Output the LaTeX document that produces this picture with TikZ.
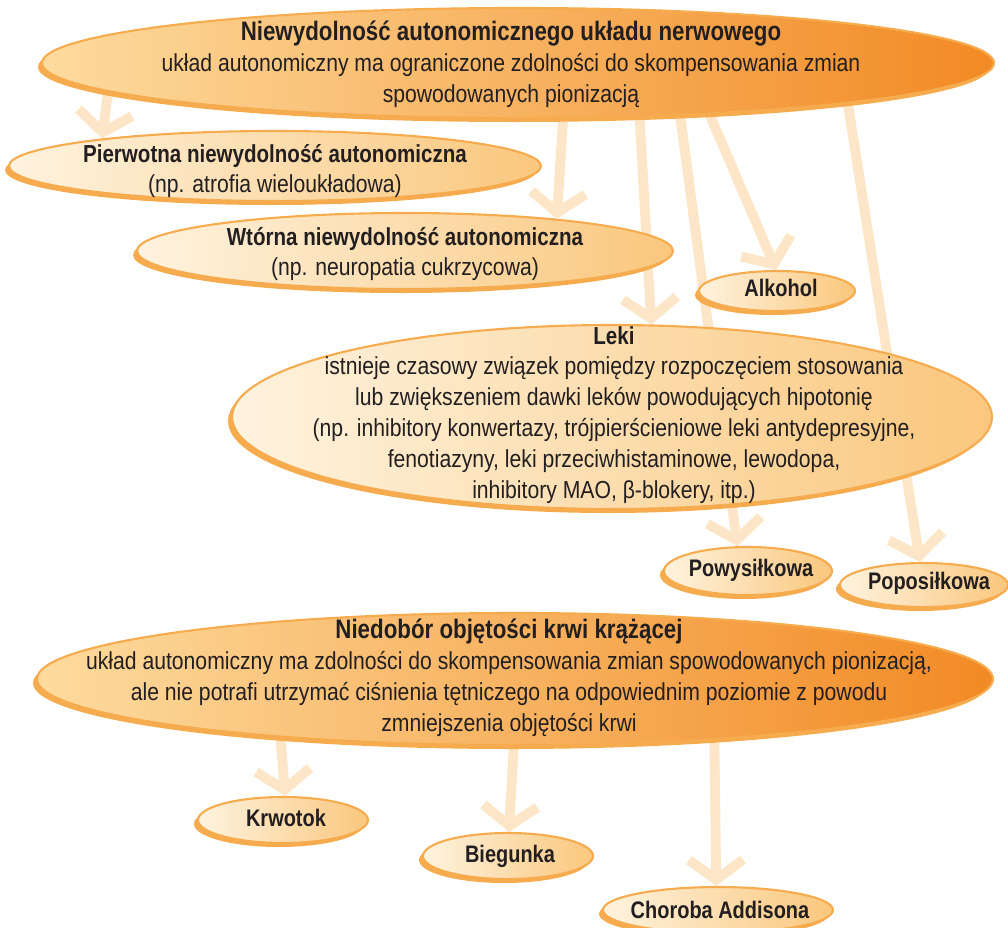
\documentclass[tikz,border=0pt]{standalone}
\usepackage{fontspec}
\setmainfont[FakeStretch=0.86, BoldFeatures={FakeStretch=0.835}]{Liberation Sans}
\usetikzlibrary{shapes.geometric,arrows.meta,backgrounds}
\definecolor{obwodka}{HTML}{F6AC4E}
\definecolor{jasnyL}{HTML}{FEF3DF}
\definecolor{jasnyP}{HTML}{FAC77D}
\definecolor{ciemnyL}{HTML}{FDDB9E}
\definecolor{ciemnyP}{HTML}{F28A24}
\definecolor{strzalka}{HTML}{FDE6C8}
\definecolor{tekst}{HTML}{231F20}

\begin{document}
\begin{tikzpicture}[x=0.025cm, y=-0.025cm, font=\fontsize{17.5}{22}\selectfont, text=tekst,
	owal/.style={ellipse, inner sep=0pt, draw=obwodka, line width=1.5pt, preaction={fill=obwodka, transform canvas={shift={(-4,4)}}}},
	duzy/.style={owal, left color=ciemnyL, right color=ciemnyP},
	maly/.style={owal, left color=jasnyL, right color=jasnyP},
	napis/.style={align=center, inner sep=0pt},
	etykieta/.style={napis, font=\fontsize{17}{20}\selectfont\bfseries},
	strz/.style={draw=strzalka, line width=7pt, -{Straight Barb[length=0.5cm, width=1.35cm]}}]
	
	\useasboundingbox (0, 0) rectangle (1008, 928);
	
	% Niewydolność autonomiczna
	\node[duzy, minimum width=952*0.025cm, minimum height=110*0.025cm] (ans) at (518, 63) {};
	\node[napis] (ans-t) at (511, 64) {{\fontsize{19}{22}\selectfont\bfseries Niewydolność autonomicznego układu nerwowego}\\układ autonomiczny ma ograniczone zdolności do skompensowania zmian\\spowodowanych pionizacją};
	
	\node[maly, minimum width=532*0.025cm, minimum height=70*0.025cm] (pierw) at (275, 166) {};
	\node[napis] (pierw-t) at (275, 171) {\textbf{Pierwotna niewydolność autonomiczna}\\(np. atrofia wieloukładowa)};
	
	\node[maly, minimum width=536*0.025cm, minimum height=76*0.025cm] (wtor) at (405, 251) {};
	\node[napis] (wtor-t) at (405, 254) {\textbf{Wtórna niewydolność autonomiczna}\\(np. neuropatia cukrzycowa)};
	
	\node[maly, minimum width=156*0.025cm, minimum height=40*0.025cm] (alk) at (777, 291) {};
	\node[etykieta] (alk-t) at (781, 288) {Alkohol};
	
	\node[maly, minimum width=760*0.025cm, minimum height=184*0.025cm] (leki) at (612, 417) {};
	\node[napis] (leki-t) at (614, 415) {\textbf{Leki}\\istnieje czasowy związek pomiędzy rozpoczęciem stosowania\\lub zwiększeniem dawki leków powodujących hipotonię\\(np. inhibitory konwertazy, trójpierścieniowe leki antydepresyjne,\\fenotiazyny, leki przeciwhistaminowe, lewodopa,\\inhibitory MAO, β-blokery, itp.)};
	
	\node[maly, minimum width=168*0.025cm, minimum height=48*0.025cm] (powys) at (748, 571) {};
	\node[etykieta] (powys-t) at (751, 570) {Powysiłkowa};
	
	\node[maly, minimum width=168*0.025cm, minimum height=44*0.025cm] (popos) at (924, 585) {};
	\node[etykieta] (popos-t) at (929, 583) {Poposiłkowa};
	
	% Niedobór objętości krwi
	\node[duzy, minimum width=956*0.025cm, minimum height=132*0.025cm] (krew) at (515, 679) {};
	\node[napis] (krew-t) at (509, 678) {{\fontsize{19}{22}\selectfont\bfseries Niedobór objętości krwi krążącej}\\układ autonomiczny ma zdolności do skompensowania zmian spowodowanych pionizacją,\\ale nie potrafi utrzymać ciśnienia tętniczego na odpowiednim poziomie z powodu\\zmniejszenia objętości krwi};
	
	\node[maly, minimum width=170*0.025cm, minimum height=46*0.025cm] (krwot) at (283, 820) {};
	\node[etykieta] (krwot-t) at (286, 818) {Krwotok};
	
	\node[maly, minimum width=170*0.025cm, minimum height=46*0.025cm] (bieg) at (508, 856) {};
	\node[etykieta] (bieg-t) at (510, 856) {Biegunka};
	
	\node[maly, minimum width=230*0.025cm, minimum height=46*0.025cm] (addis) at (718, 910) {};
	\node[etykieta] (addis-t) at (720, 910) {Choroba Addisona};
	
	% strzałki pod owalami
	\begin{pgfonlayer}{background}
		\draw[strz] (ans.184) -- (pierw.171);
		\draw[strz] (ans.-51) -- (wtor.12);
		\draw[strz] (ans.-24) -- (leki.67);
		\draw[strz] (ans.-15) -- (alk.92);
		\draw[strz] (ans.-18) -- (powys.113);
		\draw[strz] (ans.-7) -- (popos.100);
		\draw[strz] (krew.194) -- (krwot.85);
		\draw[strz] (krew.269) -- (bieg.88);
		\draw[strz] (krew.-17) -- (addis.94);
	\end{pgfonlayer}
	
\end{tikzpicture}
\end{document}
